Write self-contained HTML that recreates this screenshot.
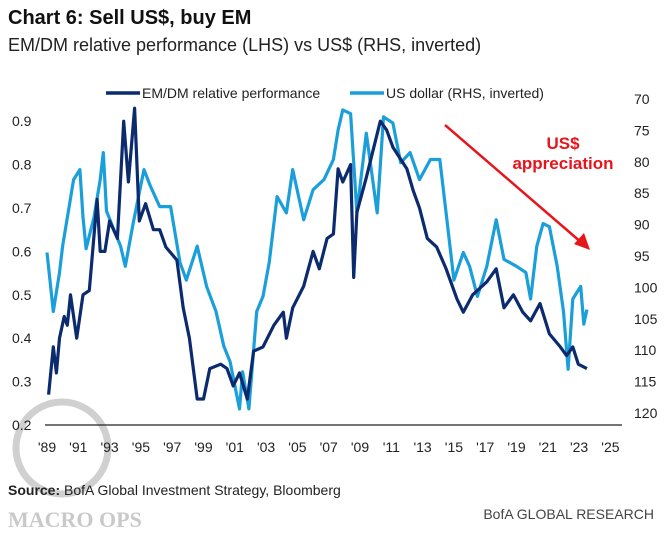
<!DOCTYPE html>
<html><head><meta charset="utf-8"><style>
body{margin:0;background:#fff;width:668px;height:537px;overflow:hidden;font-family:"Liberation Sans Narrow","Liberation Sans",sans-serif}
svg{display:block}
</style></head><body>
<svg id="c" width="668" height="537" xmlns="http://www.w3.org/2000/svg">
<text x="8" y="24" font-size="20" font-weight="bold" fill="#111">Chart 6: Sell US$, buy EM</text>
<text x="8" y="51" font-size="18" fill="#222">EM/DM relative performance (LHS) vs US$ (RHS, inverted)</text>
<g>
<line x1="106" y1="93" x2="140" y2="93" stroke="#0c2a6e" stroke-width="3.5"/>
<text x="142" y="98" font-size="14" fill="#222">EM/DM relative performance</text>
<line x1="350" y1="93" x2="384" y2="93" stroke="#1a9fdb" stroke-width="3.5"/>
<text x="386" y="98" font-size="14" fill="#222">US dollar (RHS, inverted)</text>
</g>
<g opacity="0.45">
<circle cx="62" cy="448" r="46" fill="none" stroke="#999" stroke-width="7"/>
<text x="8" y="527" font-family="Liberation Serif,serif" font-size="22" font-weight="bold" fill="#888">MACRO OPS</text>
</g>
<g id="axes"></g>
<g id="series"></g>
<g>
<line x1="445" y1="125" x2="582" y2="243" stroke="#e8141b" stroke-width="2.5"/>
<polygon points="590,250 574,244 584,233" fill="#e8141b"/>
<text x="563" y="149" font-size="17" font-weight="bold" fill="#e8141b" text-anchor="middle">US$</text>
<text x="563" y="169" font-size="17" font-weight="bold" fill="#e8141b" text-anchor="middle">appreciation</text>
</g>
<text x="8" y="495" font-size="14" fill="#222"><tspan font-weight="bold">Source:</tspan> BofA Global Investment Strategy, Bloomberg</text>
<text x="654" y="519" font-size="14" fill="#444" text-anchor="end">BofA GLOBAL RESEARCH</text>
</svg>
<script>
const emYears=[1989.1,1989.4,1989.6,1989.8,1990.1,1990.3,1990.5,1990.9,1991.3,1991.7,1992.2,1992.4,1992.7,1993.0,1993.5,1993.9,1994.2,1994.6,1994.9,1995.3,1995.8,1996.2,1996.6,1997.3,1997.7,1998.1,1998.6,1999.0,1999.4,2000.1,2000.5,2000.9,2001.3,2001.8,2002.2,2002.8,2003.5,2004.1,2004.3,2004.7,2005.4,2006.0,2006.4,2006.9,2007.3,2007.6,2007.9,2008.4,2008.6,2008.8,2009.4,2010.3,2010.7,2011.1,2012.0,2012.4,2012.8,2013.3,2013.9,2014.5,2015.2,2015.6,2016.2,2017.1,2017.7,2018.2,2018.8,2019.4,2019.9,2020.5,2021.1,2021.8,2022.2,2022.6,2022.95,2023.5];
const emValues=[0.27,0.38,0.32,0.40,0.45,0.43,0.50,0.40,0.50,0.51,0.72,0.60,0.60,0.67,0.63,0.90,0.76,0.93,0.67,0.71,0.65,0.65,0.61,0.58,0.47,0.40,0.26,0.26,0.33,0.34,0.33,0.29,0.32,0.26,0.37,0.38,0.43,0.46,0.40,0.47,0.52,0.60,0.56,0.63,0.64,0.79,0.76,0.80,0.54,0.69,0.77,0.90,0.88,0.84,0.79,0.74,0.70,0.63,0.61,0.56,0.49,0.46,0.50,0.53,0.56,0.47,0.50,0.46,0.44,0.48,0.41,0.38,0.36,0.38,0.34,0.33];
const usdYears=[1989.0,1989.4,1989.8,1990.0,1990.7,1991.1,1991.3,1991.5,1992.0,1992.4,1992.6,1992.8,1993.2,1993.7,1994.0,1994.5,1995.2,1995.6,1996.2,1996.9,1997.5,1997.9,1998.6,1999.2,1999.8,2000.3,2000.7,2001.3,2001.5,2001.9,2002.4,2002.8,2003.2,2003.7,2004.3,2004.7,2005.4,2006.0,2006.7,2007.3,2007.6,2007.9,2008.4,2008.8,2009.4,2010.1,2010.5,2011.1,2011.6,2012.2,2012.8,2013.5,2014.1,2014.5,2015.0,2015.6,2016.0,2016.5,2017.1,2017.7,2018.2,2019.0,2019.6,2019.9,2020.3,2020.7,2021.1,2021.6,2022.0,2022.3,2022.6,2023.1,2023.3,2023.5];
const usdValues=[94.6,104,97.8,93.6,83,81.4,89,94,89,83,78.7,88,90.5,93.6,96.8,90,81.4,84,87.3,87.3,96.2,99,93.6,100,104,109.5,112,119.5,113.6,119.5,104,101.6,96.2,85.7,88.3,81.4,89.4,84.6,83,79.8,75.1,71.9,72.5,88.3,75.6,88.3,73,74,80.3,78.7,83,79.8,79.8,88.3,99,94.6,96.8,101.6,96.8,89.4,95.7,96.8,97.8,102,93.6,90,90.5,96.8,104,113.2,102,100,106,103.7];
const xTickLabels=["'89","'91","'93","'95","'97","'99","'01","'03","'05","'07","'09","'11","'13","'15","'17","'19","'21","'23","'25"];
const leftTicks=[0.2,0.3,0.4,0.5,0.6,0.7,0.8,0.9];
const rightTicks=[70,75,80,85,90,95,100,105,110,115,120];
const NS='http://www.w3.org/2000/svg';
const xS=y=>47+(y-1989)*15.65;
const yL=v=>425-(v-0.2)*434;
const yR=v=>98+(v-70)*6.28;
const axes=document.getElementById('axes'),ser=document.getElementById('series');
function mk(tag,attrs,parent,txt){const e=document.createElementNS(NS,tag);for(const k in attrs)e.setAttribute(k,attrs[k]);if(txt!=null)e.textContent=txt;parent.appendChild(e);return e;}
const base=mk('line',{x1:45,x2:622,y1:425,y2:425,stroke:'#222','stroke-width':1.3},axes);


xTickLabels.forEach((l,i)=>{const t=mk('text',{x:xS(1989+2*i),y:452,'font-size':14,fill:'#222','text-anchor':'middle'},axes,l);

});
leftTicks.forEach(v=>{const t=mk('text',{x:12,y:yL(v)+5,'font-size':14,fill:'#222'},axes,v.toFixed(1));

});
rightTicks.forEach(v=>{const t=mk('text',{x:634,y:yR(v)+6,'font-size':14,fill:'#222'},axes,String(v));

});
const pl=mk('polyline',{points:usdYears.map((y,i)=>xS(y).toFixed(1)+','+yR(usdValues[i]).toFixed(1)).join(' '),fill:'none',stroke:'#1a9fdb','stroke-width':3.2,'stroke-linejoin':'round'},ser);


const pd=mk('polyline',{points:emYears.map((y,i)=>xS(y).toFixed(1)+','+yL(emValues[i]).toFixed(1)).join(' '),fill:'none',stroke:'#0c2a6e','stroke-width':3.2,'stroke-linejoin':'round'},ser);


</script>
</body></html>
